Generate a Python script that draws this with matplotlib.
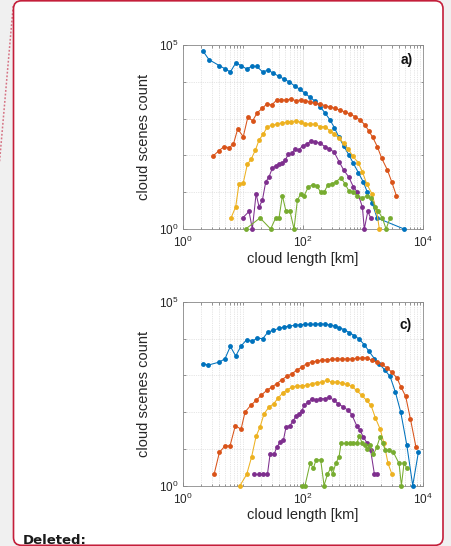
import numpy as np
import matplotlib
matplotlib.use("Agg")
import matplotlib.pyplot as plt
from matplotlib.patches import FancyBboxPatch
from matplotlib.lines import Line2D
from matplotlib.ticker import LogLocator, LogFormatterSciNotation, NullFormatter

plt.rcParams['font.family'] = ['Liberation Sans', 'DejaVu Sans']
plt.rcParams['mathtext.fontset'] = 'custom'
plt.rcParams['mathtext.rm'] = 'Liberation Sans'
plt.rcParams['mathtext.it'] = 'Liberation Sans:italic'
plt.rcParams['mathtext.bf'] = 'Liberation Sans:bold'
plt.rcParams['mathtext.default'] = 'regular'

# MATLAB default line colours
COLORS = ['#0072BD', '#D95319', '#EDB120', '#7E2F8E', '#77AC30']

# ---- panel a) : cloud length [km] vs scene count ----
blue_a_x = [2.13, 2.71, 4.04, 5.08, 6.15, 7.55, 9.38, 11.5, 13.9, 16.9, 21.3, 26.1, 32.1, 39.8, 48.9,
            59.2, 72.6, 89.1, 108, 131, 158, 192, 233, 282, 333, 393, 476, 577, 690, 836, 1010, 1180,
            1430, 1710, 4820]
blue_a_y = [70000, 40000, 27400, 22300, 18500, 32400, 27400, 22300, 26300, 26300, 18500, 20900, 17000,
            14100, 11700, 9900, 7700, 6240, 4860, 3780, 3000, 2110, 1420, 916, 568, 323, 180, 105, 61,
            34, 19, 10, 5, 2, 1]
orange_a_x = [3.21, 3.98, 4.82, 5.85, 6.90, 8.15, 10.1, 12.0, 14.5, 17.3, 21.0, 24.8, 30.1, 36.4, 43.0,
              52.1, 63.1, 75.5, 91.4, 108, 131, 158, 192, 233, 282, 341, 414, 501, 607, 736, 891, 1080,
              1240, 1450, 1730, 2050, 2550, 3010, 3600]
orange_a_y = [98, 135, 173, 162, 200, 521, 323, 1080, 879, 1450, 1900, 2500, 2340, 3200, 3200, 3200,
              3410, 3070, 3200, 3070, 2880, 2600, 2500, 2240, 2070, 1900, 1710, 1510, 1330, 1130, 916,
              670, 470, 310, 173, 83, 40, 19, 8]
yellow_a_x = [6.31, 7.55, 8.57, 10.1, 11.8, 13.6, 16.1, 18.5, 21.8, 25.5, 30.1, 36.4, 44.1, 53.5, 63.1,
              75.5, 91.4, 108, 131, 158, 192, 233, 278, 333, 398, 476, 570, 673, 826, 975, 1150, 1410,
              1690, 1870]
yellow_a_y = [2, 4, 17, 18, 57, 78, 140, 262, 382, 604, 656, 698, 759, 793, 826, 861, 793, 713, 713,
              698, 604, 604, 470, 382, 291, 213, 146, 96, 64, 36, 17, 9, 3, 1]
purple_a_x = [9.86, 12.6, 14.3, 16.5, 18.5, 21.0, 23.9, 27.1, 30.8, 35.5, 39.8, 45.3, 50.8, 57.0, 64.7,
              73.6, 85.7, 98.6, 115, 136, 158, 192, 233, 275, 329, 398, 476, 577, 690, 805, 975, 1050,
              1200, 1340]
purple_a_y = [2, 3, 1, 9, 4, 6, 19, 26, 45, 53, 57, 61, 75, 109, 114, 146, 140, 184, 200, 246, 236,
              213, 173, 149, 124, 68, 40, 26, 14, 10, 4, 1, 3, 2]
green_a_x = [11.1, 19.2, 28.9, 35.0, 39.8, 45.3, 52.1, 60.7, 70.8, 80.5, 91.4, 104, 123, 145, 169, 197,
             224, 261, 304, 355, 425, 501, 577, 673, 805, 975, 1180, 1380, 1580, 1800, 2100, 2420, 2820]
green_a_y = [1, 2, 1, 2, 2, 8, 3, 3, 1, 6, 9, 8, 14, 16, 15, 10, 10, 16, 17, 19, 25, 17, 11, 10, 8, 7,
             8, 7, 4, 3, 2, 1, 2]

# ---- panel c) ----
blue_c_x = [2.13, 2.64, 4.04, 5.01, 6.15, 7.55, 9.27, 11.5, 14.1, 17.3, 21.3, 26.1, 32.1, 39.3, 48.2,
            59.2, 72.6, 89.1, 108, 131, 161, 192, 233, 282, 337, 404, 489, 592, 718, 869, 1050, 1260,
            1550, 1870, 2330, 2820, 3460, 4250, 5350, 6730, 8360]
blue_c_y = [2080, 1910, 2310, 2850, 6180, 3370, 6310, 9400, 8460, 10400, 10000, 15200, 16900, 19100,
            20800, 22100, 23100, 24100, 24600, 24600, 24600, 25600, 24600, 23600, 22100, 19950, 17600,
            14600, 12100, 9590, 6860, 4510, 2850, 2080, 1370, 940, 351, 100, 13, 1, 8]
orange_c_x = [3.29, 4.04, 5.01, 6.07, 7.45, 9.27, 10.8, 13.4, 16.5, 20.2, 24.8, 30.1, 36.4, 44.1, 53.5,
              64.7, 78.3, 95.1, 115, 139, 169, 205, 248, 301, 364, 441, 535, 647, 783, 951, 1150, 1390,
              1690, 2050, 2480, 3010, 3640, 4300, 5140, 6150, 7640]
orange_c_y = [2, 8, 12, 12, 43, 34, 100, 152, 208, 291, 390, 481, 593, 762, 940, 1110, 1370, 1690, 2080,
              2310, 2460, 2560, 2670, 2730, 2790, 2790, 2790, 2790, 2910, 2970, 3030, 2560, 2310, 2000,
              1620, 1230, 863, 481, 267, 66, 11]
yellow_c_x = [8.91, 11.5, 13.9, 16.5, 19.2, 22.4, 27.1, 32.4, 38.8, 46.5, 54.8, 65.6, 78.3, 95.1, 115,
              139, 169, 205, 248, 301, 364, 441, 535, 647, 783, 951, 1150, 1360, 1610, 1920, 2240, 2610,
              3040]
yellow_c_y = [1, 2, 6, 22, 39, 90, 137, 169, 246, 337, 406, 481, 512, 522, 534, 593, 631, 658, 731, 658,
              658, 618, 568, 501, 390, 285, 208, 152, 69, 35, 14, 4, 2]
purple_c_x = [15.2, 18.2, 21.8, 25.5, 28.2, 32.9, 36.4, 41.4, 47.0, 52.1, 60.7, 69.0, 75.5, 85.7, 95.1,
              104, 123, 139, 165, 192, 233, 275, 329, 388, 470, 570, 647, 783, 891, 1010, 1180, 1340,
              1550, 1730]
purple_c_y = [2, 2, 2, 2, 7, 7, 11, 15, 17, 39, 43, 59, 76, 90, 106, 152, 187, 231, 208, 231, 231, 256,
              208, 169, 137, 111, 86, 43, 32, 21, 14, 9, 2, 2]
green_c_x = [95.1, 108, 131, 149, 165, 197, 224, 255, 289, 312, 350, 398, 430, 514, 607, 690, 783, 869,
             975, 1080, 1180, 1310, 1490, 1690, 1920, 2130, 2360, 2750, 3210, 3980, 4360, 4820, 5410]
green_c_y = [1, 1, 4, 3, 5, 5, 1, 2, 3, 2, 4, 6, 14, 14, 14, 14, 14, 22, 14, 13, 10, 13, 7, 11, 21, 14,
             9, 9, 8, 4, 1, 4, 3]

x_ticks = [1, 100, 10000]
y_ticks = [1, 100000]
x_label = 'cloud length [km]'
y_label = 'cloud scenes count'

W, H = 451, 546
fig = plt.figure(figsize=(W / 100, H / 100), dpi=100)
fig.patch.set_facecolor('#f0f0f0')

# page frame drawn in pixel coordinates
bg = fig.add_axes([0, 0, 1, 1], zorder=0)
bg.set_xlim(0, W)
bg.set_ylim(H, 0)
bg.axis('off')
crimson = '#c41e3a'
frame = FancyBboxPatch((13.5, 0.8), 429.5, 544.5, boxstyle='round,pad=0,rounding_size=8',
                       facecolor='white', edgecolor=crimson, linewidth=1.2)
bg.add_patch(frame)
bg.add_line(Line2D([13.2, -0.5], [6, 162], color=crimson, alpha=0.6, linewidth=1.1,
                   linestyle=(0, (1.2, 1.2))))
bg.text(22.5, 543.5, 'Deleted:', fontsize=9.5, fontweight='bold', family=['DejaVu Sans'],
        color='#1a1a1a', ha='left', va='baseline')

panels = [
    ([0.4058, 0.5806, 0.5322, 0.3370], 'a)', 0.958, 0.92,
     [(blue_a_x, blue_a_y), (orange_a_x, orange_a_y), (yellow_a_x, yellow_a_y),
      (purple_a_x, purple_a_y), (green_a_x, green_a_y)]),
    ([0.4058, 0.1108, 0.5322, 0.3361], 'c)', 0.953, 0.875,
     [(blue_c_x, blue_c_y), (orange_c_x, orange_c_y), (yellow_c_x, yellow_c_y),
      (purple_c_x, purple_c_y), (green_c_x, green_c_y)]),
]

for rect, tag, tx, ty, series in panels:
    ax = fig.add_axes(rect, zorder=2)
    ax.set_xscale('log')
    ax.set_yscale('log')
    for (xs, ys), c in zip(series, COLORS):
        ax.plot(xs, ys, '-o', color=c, linewidth=0.75, markersize=3.5,
                markeredgewidth=0, clip_on=False, zorder=3)
    ax.set_xlim(1, 1e4)
    ax.set_ylim(1, 1e5)
    ax.set_xticks(x_ticks)
    ax.set_yticks(y_ticks)
    ax.xaxis.set_major_formatter(LogFormatterSciNotation())
    ax.yaxis.set_major_formatter(LogFormatterSciNotation())
    ax.xaxis.set_minor_locator(LogLocator(base=10, subs=np.arange(1, 10), numticks=30))
    ax.yaxis.set_minor_locator(LogLocator(base=10, subs=(1.0,), numticks=30))
    ax.xaxis.set_minor_formatter(NullFormatter())
    ax.yaxis.set_minor_formatter(NullFormatter())
    ax.grid(True, which='major', color='#e3e3e3', linewidth=0.6, linestyle='-')
    ax.grid(True, which='minor', color='#cfcfcf', linewidth=0.5, linestyle=(0, (1, 1.6)))
    ax.set_axisbelow(True)
    ax.tick_params(which='both', direction='in', top=True, right=True, color='#6a6a6a',
                   width=0.5, labelsize=8.5, labelcolor='#262626')
    ax.tick_params(which='major', length=3)
    ax.tick_params(which='minor', length=1.8)
    ax.tick_params(axis='x', pad=4.5)
    ax.tick_params(axis='y', pad=3.0)
    for s in ax.spines.values():
        s.set_color('#8a8a8a')
        s.set_linewidth(0.6)
    ax.set_xlabel(x_label, fontsize=10.5, color='#262626')
    ax.set_ylabel(y_label, fontsize=10.5, color='#262626')
    ax.xaxis.set_label_coords(0.5, -0.125)
    ax.yaxis.set_label_coords(-0.135, 0.5)
    ax.text(tx, ty, tag, transform=ax.transAxes, ha='right', va='center',
            fontsize=10, fontweight='bold', color='#111111')

fig.savefig('out.png', dpi=100, facecolor=fig.get_facecolor())
